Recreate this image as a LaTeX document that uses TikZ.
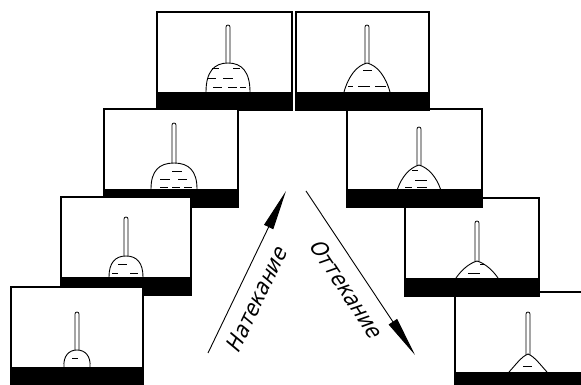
\documentclass[tikz,border=0pt]{standalone}
\usepackage{fontspec}
\newfontfamily\gostfont[FakeSlant=0.25,FakeStretch=0.9]{DejaVu Sans}
\usetikzlibrary{arrows.meta}

\tikzset{
  cell/.style={draw=black,fill=white,line width=1.2pt},
  rod/.style={draw=black,fill=white,line width=0.8pt,rounded corners=2pt},
  drop/.style={draw=black,fill=white,line width=0.9pt},
  liquid/.style={line width=0.8pt},
  flow/.style={line width=0.9pt,-{Triangle[length=40pt,width=10pt]}},
  flowlabel/.style={font=\gostfont\fontsize{22}{22}\selectfont,inner sep=1pt}
}

\begin{document}
\begin{tikzpicture}[x=1pt,y=1pt]
  \path[use as bounding box,fill=white] (0,0) rectangle (581,385);

  % advancing drops, top to bottom
  \begin{scope}[shift={(157,275)}]
    \draw[cell] (0,0) rectangle (135,98);
    \fill (0,0) rectangle (135,18);
    \draw[rod] (69,42) rectangle (73,85);
    \draw[drop] (49,18) .. controls (49,38) and (57,47) .. (71,47) .. controls (85,47) and (93,38) .. (93,18);
    \draw[liquid] (55,42) -- (62,42) (76,42) -- (83,42) (51,32) -- (59,32) (66,32) -- (76,32)
      (56,23) -- (65,23) (71,23) -- (80,23) (83,23) -- (89,23);
  \end{scope}

  \begin{scope}[shift={(104,178)}]
    \draw[cell] (0,0) rectangle (134,98);
    \fill (0,0) rectangle (134,18);
    \draw[rod] (68,39) rectangle (72,84);
    \draw[drop] (47,18) .. controls (47,36) and (55,44) .. (70,44) .. controls (85,44) and (93,36) .. (93,18);
    \draw[liquid] (68,36) -- (78,36) (56,28) -- (66,28) (74,28) -- (83,28)
      (56,20) -- (64,20) (68,20) -- (76,20) (80,20) -- (88,20);
  \end{scope}

  \begin{scope}[shift={(61,90)}]
    \draw[cell] (0,0) rectangle (130,98);
    \fill (0,0) rectangle (130,18);
    \draw[rod] (63,34) rectangle (67,78);
    \draw[drop] (48,18) .. controls (48,32) and (54,39) .. (65,39) .. controls (76,39) and (82,32) .. (82,18);
    \draw[liquid] (57,31) -- (66,31) (51,22) -- (57,22) (69,22) -- (77,22);
  \end{scope}

  \begin{scope}[shift={(11,0)}]
    \draw[cell] (0,0) rectangle (132,98);
    \fill (0,0) rectangle (132,18);
    \draw[rod] (64,30) rectangle (68,73);
    \draw[drop] (53,18) .. controls (52,29) and (58,35) .. (66,35) .. controls (74,35) and (80,29) .. (79,18);
    \draw[liquid] (61,27) -- (67,27);
  \end{scope}

  % receding drops, bottom to top
  \begin{scope}[shift={(455,-5)}]
    \draw[cell] (0,0) rectangle (134,98);
    \fill (0,0) rectangle (134,18);
    \draw[rod] (71,31) rectangle (75,78);
    \draw[drop] (54,18) .. controls (60.7,25.2) and (66.3,33.3) .. (73,36)
      .. controls (79.7,33.3) and (85.3,25.2) .. (92,18);
    \draw[liquid] (68,24) -- (77,24);
  \end{scope}

  \begin{scope}[shift={(405,89)}]
    \draw[cell] (0,0) rectangle (134,98);
    \fill (0,0) rectangle (134,18);
    \draw[rod] (70,30) rectangle (74,75);
    \draw[drop] (51,18) .. controls (56.3,25.7) and (63.6,32.4) .. (72,35)
      .. controls (80.4,32.4) and (87.7,25.7) .. (93,18);
    \draw[liquid] (75,32) -- (80,32) (63,23) -- (75,23);
  \end{scope}

  \begin{scope}[shift={(347,178)}]
    \draw[cell] (0,0) rectangle (135,98);
    \fill (0,0) rectangle (135,18);
    \draw[rod] (70,37) rectangle (74,80);
    \draw[drop] (50.5,18) .. controls (54.8,30) and (62.3,39.1) .. (72,42)
      .. controls (81.7,39.1) and (89.2,30) .. (93.5,18);
    \draw[liquid] (65,37) -- (71,37) (68,27) -- (80,27) (58,19.5) -- (65,19.5) (70,19.5) -- (80,19.5);
  \end{scope}

  \begin{scope}[shift={(296,275)}]
    \draw[cell] (0,0) rectangle (133,98);
    \fill (0,0) rectangle (133,18);
    \draw[rod] (69,42) rectangle (73,85);
    \draw[drop] (48,18) .. controls (52.6,34) and (60.6,44.4) .. (71,47)
      .. controls (81.4,44.4) and (89.4,34) .. (94,18);
    \draw[liquid] (67,40) -- (76,40) (52,24) -- (57,24) (62,24) -- (74,24) (79,24) -- (90,24);
  \end{scope}

  % direction arrows
  \coordinate (adv-tail) at (208,32);
  \coordinate (adv-head) at (286,194);
  \coordinate (rec-tail) at (306,194);
  \coordinate (rec-head) at (415,30);
  \draw[flow] (adv-tail) -- (adv-head);
  \draw[flow] (rec-tail) -- (rec-head);
  \node[flowlabel,rotate=64.3] (adv-label) at (256,85) {Натекание};
  \node[flowlabel,rotate=-56.4] (rec-label) at (346,97) {Оттекание};
\end{tikzpicture}
\end{document}
